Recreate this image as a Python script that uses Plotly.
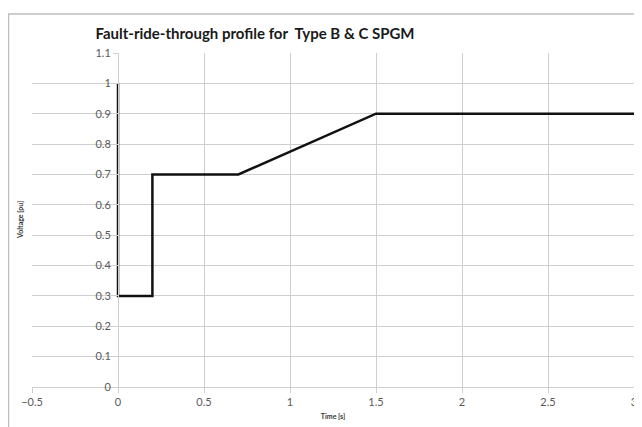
import plotly.graph_objects as go

time_s = [0, 0, 0.2, 0.2, 0.7, 1.5, 3]
voltage_pu = [1.0, 0.3, 0.3, 0.7, 0.7, 0.9, 0.9]

title_text = "Fault-ride-through profile for  Type B &amp; C SPGM"
x_title = "Time [s]"
y_title = "Voltage [pu]"

# page body has an 8px margin: figure spans screen 8..642 x 8..427
W, H = 634, 419
ml, mr, mt, mb = 24, 8, 45, 40
pw = W - ml - mr
ph = H - mt - mb

fig = go.Figure()
fig.add_trace(go.Scatter(x=time_s, y=voltage_pu, mode="lines",
                         line=dict(color="#111111", width=2.5), showlegend=False,
                         cliponaxis=False))

grid = "#cfcfcf"
tickfont = dict(family="Lato, Open Sans, sans-serif", size=11, color="#595959")

fig.update_layout(
    width=W, height=H,
    margin=dict(l=ml, r=mr, t=mt, b=mb, autoexpand=False),
    paper_bgcolor="white", plot_bgcolor="white",
    title=dict(text="<b>" + title_text + "</b>",
               font=dict(family="Lato, sans-serif", size=15, color="#1a1a1a"),
               x=(247 - ml) / pw, xref="paper", xanchor="center",
               y=1 - 26 / H, yref="container", yanchor="middle", automargin=False),
    xaxis=dict(range=[-0.5, 3], dtick=0.5, tick0=0, showgrid=True, gridcolor=grid,
               gridwidth=1, zeroline=False, showline=True, linecolor=grid,
               ticks="outside", ticklen=5, tickcolor=grid, tickfont=tickfont,
               domain=[0, 1], automargin=False, ticklabeloverflow="allow",
               title=dict(text="<b>" + x_title + "</b>", standoff=6,
                          font=dict(family="Lato, sans-serif", size=7, color="#333333"))),
    yaxis=dict(range=[0, 1.1], dtick=0.1, tick0=0, showgrid=True, gridcolor=grid,
               gridwidth=1, zeroline=False, showline=True, linecolor=grid,
               ticks="outside", ticklen=5, tickcolor=grid, tickfont=tickfont,
               anchor="free", position=0.5 / 3.5, ticklabelstandoff=0,
               automargin=False, ticklabeloverflow="allow"),
    annotations=[dict(text="<b>" + y_title + "</b>", textangle=-90,
                      xref="paper", yref="paper", x=(12 - ml) / pw, y=0.5,
                      xanchor="center", yanchor="middle", showarrow=False,
                      font=dict(family="Lato, sans-serif", size=7, color="#333333"))],
    shapes=[dict(type="rect", xref="paper", yref="paper",
                 x0=(0.5 - ml) / pw, x1=(633 - ml) / pw,
                 y0=-0.3, y1=1 + (mt - 6) / ph,
                 line=dict(color="#bdbdbd", width=1.5), layer="below")],
)

fig.write_html("out.html")
